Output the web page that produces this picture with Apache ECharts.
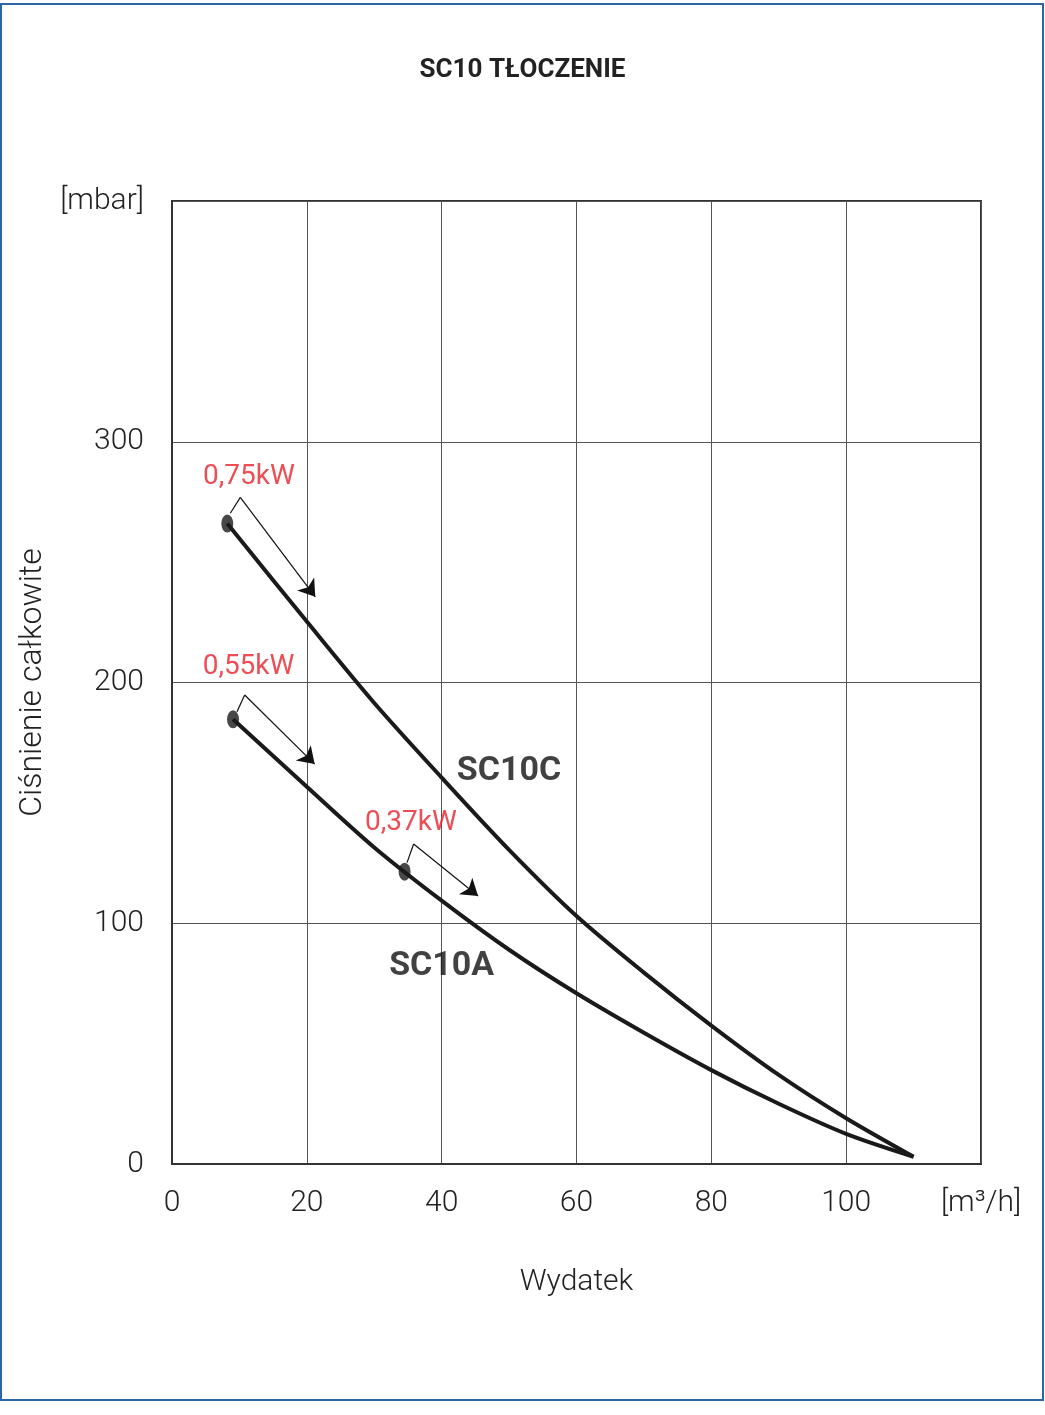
<!DOCTYPE html>
<html>
<head>
<meta charset="utf-8">
<script src="https://cdn.jsdelivr.net/npm/echarts@6/dist/echarts.min.js"></script>
<style>
html,body{margin:0;padding:0;background:#fff;}
#chart{width:1045px;height:1415px;}
</style>
</head>
<body>
<div id="chart"></div>
<script>
// ---- data ----
const xTicks = [0, 20, 40, 60, 80, 100, 120];
const xTickLabels = ['0', '20', '40', '60', '80', '100', '[m³/h]'];
const yTicks = [0, 100, 200, 300, 400];
const yTickLabels = ['0', '100', '200', '300', '[mbar]'];

const sc10cFlow = [8.2, 20, 30, 40, 50, 60, 70, 80, 90, 100, 110];
const sc10cPressure = [266, 225.3, 191.5, 160.5, 130.5, 103, 79.5, 57.5, 37, 19, 3];

const sc10aFlow = [9.05, 20, 30, 40, 50, 60, 70, 80, 90, 100, 110];
const sc10aPressure = [184.7, 156.7, 131.5, 109.4, 89, 70.9, 54.5, 39, 25, 12.5, 3];

const powerLabels = ['0,75kW', '0,55kW', '0,37kW'];
const powerDotFlow = [8.2, 9.05, 34.5];
const powerDotPressure = [266, 184.7, 121.4];
const powerLabelFlow = [11.4, 11.35, 35.45];
const powerLabelPressure = [285.4, 206.4, 141.6];
// arrow: start, corner, tip
const arrowStartFlow = [8.65, 9.64, 34.86];
const arrowStartPressure = [270.3, 187.9, 125.2];
const arrowCornerFlow = [10.13, 10.78, 35.84];
const arrowCornerPressure = [276.9, 194.8, 132.9];
const arrowTipFlow = [21.25, 21.16, 45.4];
const arrowTipPressure = [235.6, 166.1, 111.3];

const curveNames = ['SC10C', 'SC10A'];
const curveLabelFlow = [50, 40];
const curveLabelPressure = [163, 82];

const title = 'SC10 TŁOCZENIE';
const yName = 'Ciśnienie całkowite';
const xName = 'Wydatek';

// ---- build ----
const zip = (a, b) => a.map((v, i) => [v, b[i]]);
const FONT = 'Roboto, "Liberation Sans Narrow", sans-serif';

const chart = echarts.init(document.getElementById('chart'), null, {renderer: 'canvas'});
const option = {
  backgroundColor: '#fff',
  animation: false,
  title: {
    text: title, left: 'center', top: 52,
    textStyle: {fontFamily: FONT, fontWeight: 'bold', fontSize: 26, color: '#222'}
  },
  graphic: [{
    type: 'rect', silent: true,
    shape: {x: 1, y: 4, width: 1042, height: 1396},
    style: {fill: 'none', stroke: '#2a66a8', lineWidth: 2}
  }],
  grid: {
    left: 172, right: 64, top: 201, bottom: 251,
    show: true, borderColor: '#333', borderWidth: 2, backgroundColor: 'transparent'
  },
  xAxis: {
    type: 'value', min: 0, max: 120, interval: 20,
    name: xName, nameLocation: 'middle', nameGap: 103,
    nameTextStyle: {fontFamily: FONT, fontSize: 30, fontWeight: 300, color: '#222'},
    axisLine: {show: true, lineStyle: {color: '#333', width: 2}},
    axisTick: {show: false},
    splitLine: {show: true, lineStyle: {color: '#555', width: 1}},
    axisLabel: {
      margin: 24, fontFamily: FONT, fontSize: 30, fontWeight: 300, color: '#222',
      formatter: v => { const i = xTicks.indexOf(v); return i >= 0 ? xTickLabels[i] : ''; }
    }
  },
  yAxis: {
    type: 'value', min: 0, max: 400, interval: 100,
    name: yName, nameLocation: 'middle', nameGap: 107, nameRotate: 90,
    nameTextStyle: {fontFamily: FONT, fontSize: 32, fontWeight: 300, color: '#222'},
    axisLine: {show: true, lineStyle: {color: '#333', width: 2}},
    axisTick: {show: false},
    splitLine: {show: true, lineStyle: {color: '#555', width: 1}},
    axisLabel: {
      margin: 28, fontFamily: FONT, fontSize: 30, fontWeight: 300, color: '#222',
      formatter: v => { const i = yTicks.indexOf(v); return i >= 0 ? yTickLabels[i] : ''; }
    }
  },
  series: [
    {
      name: curveNames[0], type: 'line', smooth: 0.3, showSymbol: false,
      data: zip(sc10cFlow, sc10cPressure),
      lineStyle: {color: '#1a1a1a', width: 4}, z: 3
    },
    {
      name: curveNames[1], type: 'line', smooth: 0.3, showSymbol: false,
      data: zip(sc10aFlow, sc10aPressure),
      lineStyle: {color: '#1a1a1a', width: 4}, z: 3
    },
    {
      type: 'scatter', symbol: 'circle', symbolSize: [12, 18],
      itemStyle: {color: '#1a1a1a'},
      data: zip(powerDotFlow, powerDotPressure), z: 4
    },
    {
      type: 'lines', coordinateSystem: 'cartesian2d',
      symbol: ['none', 'none'],
      lineStyle: {color: '#111', width: 1.2, opacity: 1},
      data: powerLabels.map((n, i) => ({
        coords: [[arrowStartFlow[i], arrowStartPressure[i]],
                 [arrowCornerFlow[i], arrowCornerPressure[i]]]
      })), z: 4
    },
    {
      type: 'lines', coordinateSystem: 'cartesian2d',
      symbol: ['none', 'arrow'], symbolSize: 16,
      lineStyle: {color: '#111', width: 1.2, opacity: 1},
      data: powerLabels.map((n, i) => ({
        coords: [[arrowCornerFlow[i], arrowCornerPressure[i]],
                 [arrowTipFlow[i], arrowTipPressure[i]]]
      })), z: 4
    },
    {
      type: 'scatter', symbolSize: 0,
      data: powerLabels.map((n, i) => ({name: n, value: [powerLabelFlow[i], powerLabelPressure[i]]})),
      label: {
        show: true, position: 'inside', formatter: p => p.name,
        fontFamily: FONT, fontSize: 28, fontWeight: 'normal', color: '#e8202a'
      }, z: 5
    },
    {
      type: 'scatter', symbolSize: 0,
      data: curveNames.map((n, i) => ({name: n, value: [curveLabelFlow[i], curveLabelPressure[i]]})),
      label: {
        show: true, position: 'inside', formatter: p => p.name,
        fontFamily: FONT, fontSize: 34, fontWeight: 'bold', color: '#111'
      }, z: 5
    }
  ]
};
chart.setOption(option);
</script>
</body>
</html>
